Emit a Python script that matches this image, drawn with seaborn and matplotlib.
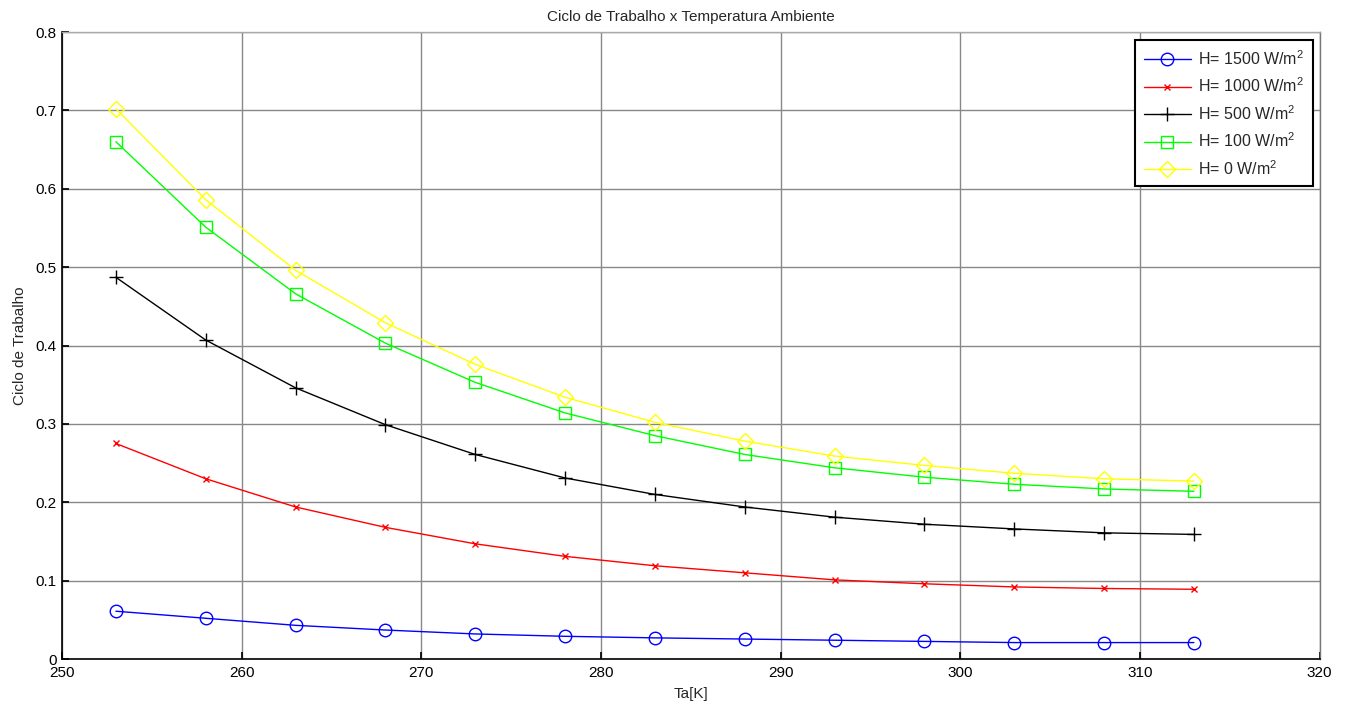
import numpy as np
import pandas as pd
import matplotlib
matplotlib.use("Agg")
import matplotlib.pyplot as plt
import seaborn as sns

# Ambient temperature [K]
ta = [253, 258, 263, 268, 273, 278, 283, 288, 293, 298, 303, 308, 313]

# Duty cycle for each irradiance level
h1500 = [0.061, 0.052, 0.043, 0.037, 0.032, 0.029, 0.027, 0.0255, 0.024, 0.0225, 0.021, 0.021, 0.021]
h1000 = [0.275, 0.230, 0.194, 0.168, 0.147, 0.131, 0.119, 0.110, 0.101, 0.096, 0.092, 0.090, 0.089]
h500 = [0.487, 0.407, 0.346, 0.299, 0.261, 0.231, 0.210, 0.194, 0.181, 0.172, 0.166, 0.161, 0.159]
h100 = [0.660, 0.551, 0.466, 0.403, 0.353, 0.314, 0.285, 0.261, 0.244, 0.232, 0.223, 0.217, 0.214]
h0 = [0.702, 0.586, 0.496, 0.429, 0.376, 0.334, 0.302, 0.278, 0.259, 0.247, 0.237, 0.230, 0.227]

labels = ["H= 1500 W/m$^2$", "H= 1000 W/m$^2$", "H= 500 W/m$^2$",
          "H= 100 W/m$^2$", "H= 0 W/m$^2$"]
series = [h1500, h1000, h500, h100, h0]
colors = ["#0000ff", "#ff0000", "#000000", "#00ff00", "#ffff00"]
markers = ["o", "x", "+", "s", "D"]
msizes = [9, 5, 10, 9, 8]

sns.set_theme(style="white")
plt.rcParams["font.family"] = ["Liberation Sans", "DejaVu Sans"]
plt.rcParams["mathtext.fontset"] = "custom"
plt.rcParams["mathtext.rm"] = "Liberation Sans"
plt.rcParams["mathtext.it"] = "Liberation Sans"

fig = plt.figure(figsize=(13.48, 7.05), dpi=100)
ax = fig.add_axes([0.046, 0.0652, 0.933, 0.8894])

for lab, vals, c, m, ms in zip(labels, series, colors, markers, msizes):
    df = pd.DataFrame({"Ta": ta, "D": vals})
    sns.lineplot(data=df, x="Ta", y="D", ax=ax, color=c, marker=m,
                 markersize=ms, markerfacecolor="none", markeredgecolor=c,
                 markeredgewidth=1.0, linewidth=1.0, label=lab)

ax.set_xlim(250, 320)
ax.set_ylim(0, 0.8)
ax.set_xticks(np.arange(250, 321, 10))
ax.set_yticks(np.arange(0, 0.81, 0.1))
ax.set_yticklabels(["0", "0.1", "0.2", "0.3", "0.4", "0.5", "0.6", "0.7", "0.8"])
ax.grid(True, color="#888888", linewidth=1.0)
ax.tick_params(direction="in", length=5, labelsize=11, colors="black",
               top=False, right=False, bottom=True, left=True)
ax.tick_params(axis="x", pad=5)
ax.tick_params(axis="y", pad=4)
ax.spines["left"].set_color("black")
ax.spines["bottom"].set_color("black")
ax.spines["left"].set_linewidth(1.2)
ax.spines["bottom"].set_linewidth(1.2)
ax.spines["top"].set_color("#aaaaaa")
ax.spines["right"].set_color("#777777")
ax.spines["top"].set_linewidth(1.0)
ax.spines["right"].set_linewidth(1.0)

ax.set_title("Ciclo de Trabalho x Temperatura Ambiente", fontsize=11, pad=8)
ax.set_xlabel("Ta[K]", fontsize=11, labelpad=5)
ax.set_ylabel("Ciclo de Trabalho", fontsize=11, labelpad=6)

leg = ax.legend(loc="upper right", bbox_to_anchor=(0.9944, 0.987),
                borderaxespad=0, fontsize=11.5, fancybox=False, framealpha=1,
                edgecolor="black", handlelength=3.0, handletextpad=0.4,
                borderpad=0.55, labelspacing=0.55)
leg.get_frame().set_linewidth(1.5)

fig.savefig("out.png", dpi=100)
